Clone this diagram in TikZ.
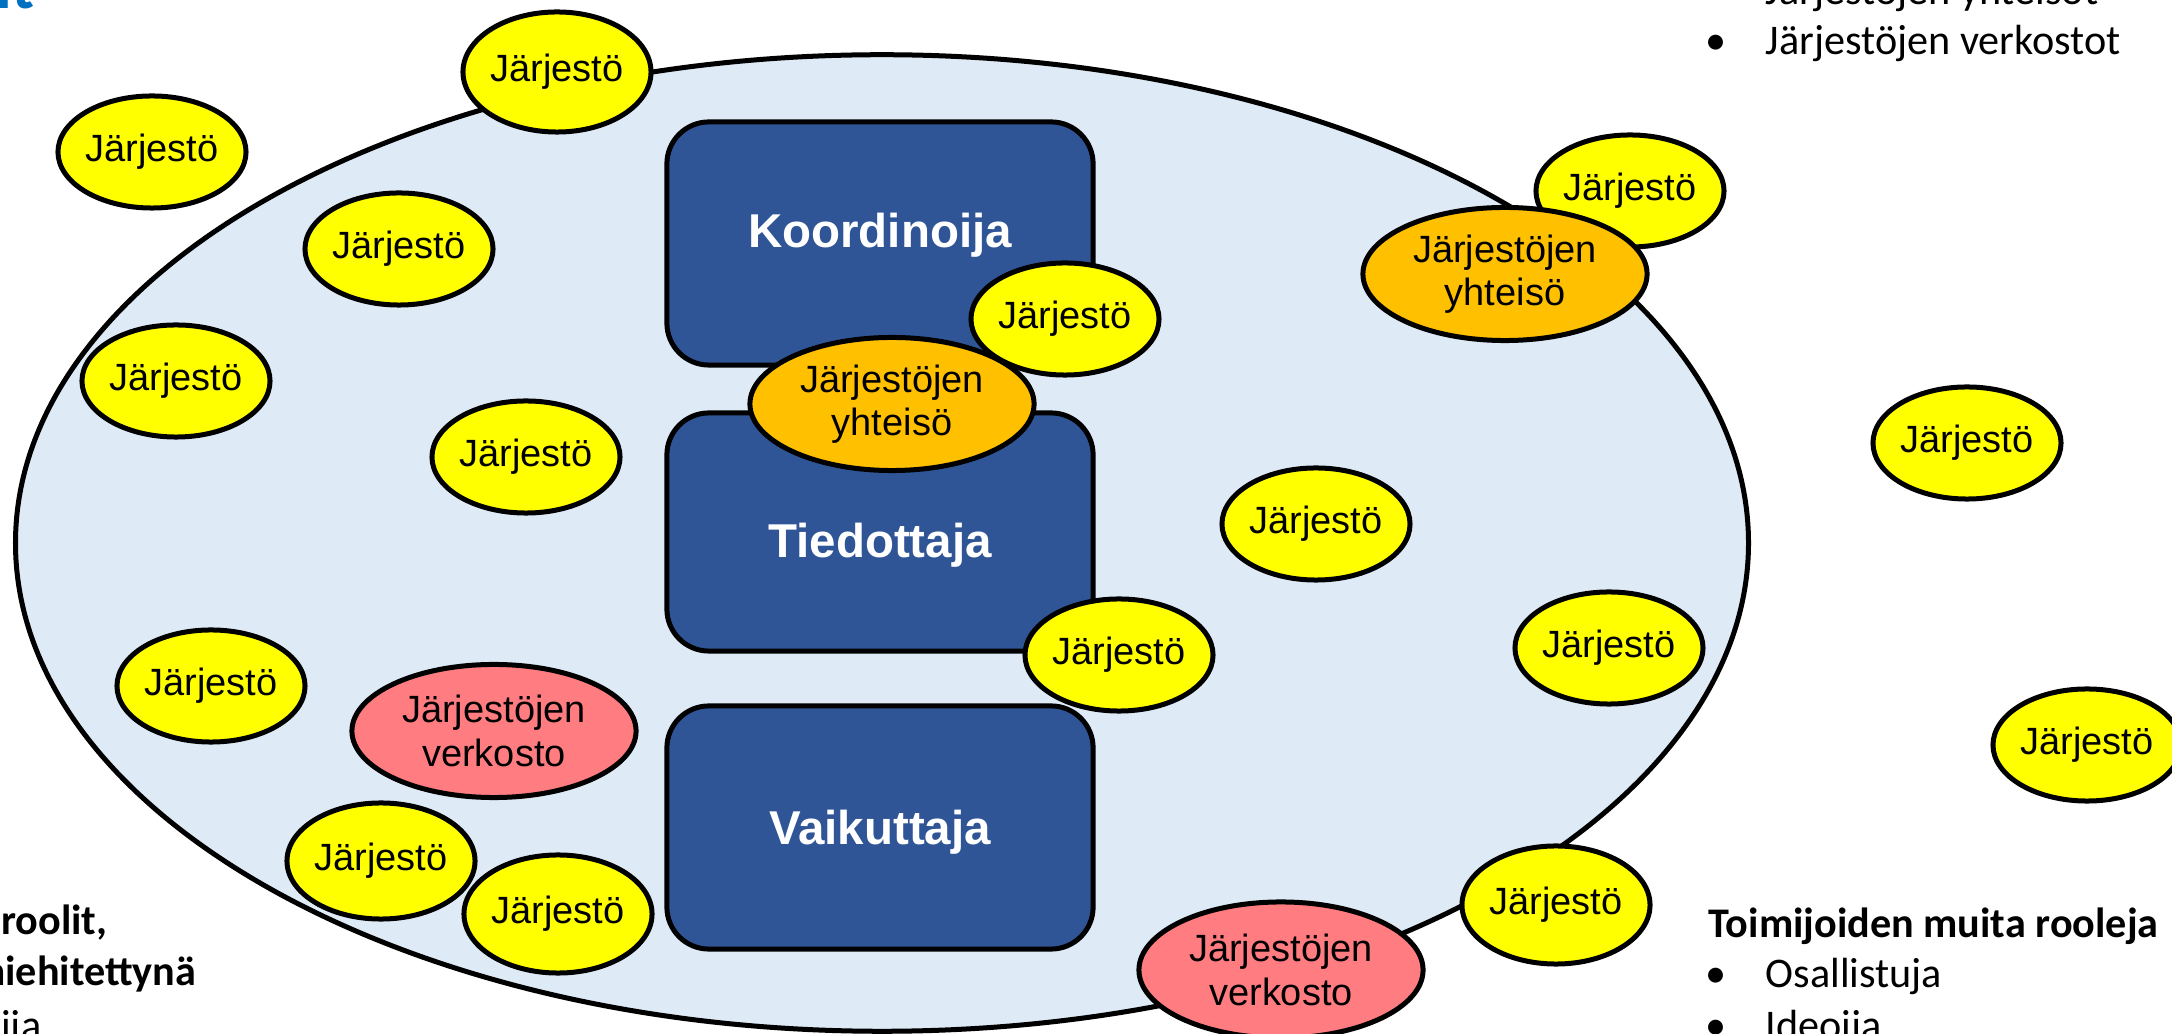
\documentclass[tikz,border=0pt]{standalone}
\usepackage{fontspec}
\setmainfont{Liberation Sans}
\newfontfamily\calfont{Carlito}
\usetikzlibrary{shapes.geometric}

\definecolor{fieldblue}{RGB}{222,235,247}
\definecolor{roleblue}{RGB}{47,85,151}
\definecolor{orgyellow}{RGB}{255,255,0}
\definecolor{grporange}{RGB}{255,192,0}
\definecolor{netred}{RGB}{255,124,128}
\definecolor{titleblue}{RGB}{0,112,192}

\begin{document}
\begin{tikzpicture}[x=0.01cm, y=-0.01cm,
  org/.style={ellipse, draw, line width=0.05cm, fill=orgyellow, inner sep=0pt,
    minimum width=1.87cm, minimum height=1.12cm, font=\fontsize{10.8}{12.3}\selectfont},
  grp/.style={org, align=center, minimum width=2.84cm, minimum height=1.33cm},
  role/.style={draw, line width=0.05cm, rounded corners=0.42cm, fill=roleblue, text=white,
    minimum width=4.26cm, font=\bfseries\fontsize{13.5}{16}\selectfont},
  note/.style={inner sep=0pt, font=\calfont\fontsize{12}{14}\selectfont},
  boldnote/.style={inner sep=0pt, font=\calfont\bfseries\fontsize{12}{14}\selectfont}]
\useasboundingbox (0,0) rectangle (2172,1034);
\fill[white] (0,0) rectangle (2172,1034);
\clip (0,0) rectangle (2172,1034);

\node[ellipse, draw, line width=0.05cm, fill=fieldblue, minimum width=17.32cm, minimum height=9.76cm] (field) at (882,543) {};

\node[role, minimum height=2.43cm] (koord) at (880,243.5) {\raisebox{-0.045cm}[0pt][0pt]{Koordinoija}};
\node[role, minimum height=2.38cm] (tied) at (880,532) {\raisebox{-0.25cm}[0pt][0pt]{Tiedottaja}};
\node[role, minimum height=2.43cm] (vaik) at (880,827.5) {\raisebox{-0.165cm}[0pt][0pt]{Vaikuttaja}};

\node[org, minimum height=1.2cm] (j1) at (557,72) {Järjestö};
\node[org] (j2) at (152,152) {Järjestö};
\node[org] (j3) at (399,249) {Järjestö};
\node[org] (j4) at (176,381) {Järjestö};
\node[org] (j5) at (526,457) {Järjestö};
\node[org] (j6) at (1065,319) {Järjestö};
\node[org] (j7) at (1119,655) {Järjestö};
\node[org] (j8) at (1316,524) {Järjestö};
\node[org] (j9) at (1630,191) {Järjestö};
\node[org] (j10) at (1609,648) {Järjestö};
\node[org] (j11) at (1967,443) {Järjestö};
\node[org] (j12) at (2087,745) {Järjestö};
\node[org, minimum height=1.18cm] (j13) at (1556,905) {Järjestö};
\node[org] (j14) at (211,686) {Järjestö};
\node[org, minimum height=1.16cm] (j15) at (381,861) {Järjestö};
\node[org, minimum height=1.18cm] (j16) at (558,914) {Järjestö};

\node[grp, fill=grporange] (y1) at (892,404) {Järjestöjen\\yhteisö};
\node[grp, fill=grporange] (y2) at (1505,274) {Järjestöjen\\yhteisö};
\node[grp, fill=netred] (v1) at (494,731) {Järjestöjen\\verkosto};
\node[grp, fill=netred, minimum height=1.36cm] (v2) at (1281,970) {Järjestöjen\\verkosto};

% texts around the field
\node[inner sep=0pt, anchor=base east, text=titleblue, font=\calfont\bfseries\fontsize{18}{20}\selectfont] (title) at (35,9) {roolit};

\node[note, anchor=base west] (b1) at (1705,5) {•};
\node[note, anchor=base west] (t1) at (1765,5) {Järjestöjen yhteisöt};
\node[note, anchor=base west] (b2) at (1705,55) {•};
\node[note, anchor=base west] (t2) at (1765,55) {Järjestöjen verkostot};

\node[boldnote, anchor=base west] (h2) at (1708,938) {Toimijoiden muita rooleja};
\node[note, anchor=base west] (b3) at (1705,988) {•};
\node[note, anchor=base west] (t3) at (1765,988) {Osallistuja};
\node[note, anchor=base west] (b4) at (1705,1039) {•};
\node[note, anchor=base west] (t4) at (1765,1039) {Ideoija};

\node[boldnote, anchor=base east] (h1) at (108,935) {roolit,};
\node[boldnote, anchor=base east] (h1b) at (197,985) {miehitettynä};
\node[note, anchor=base east] (t5) at (42,1040) {Koordinoija};
\end{tikzpicture}
\end{document}
